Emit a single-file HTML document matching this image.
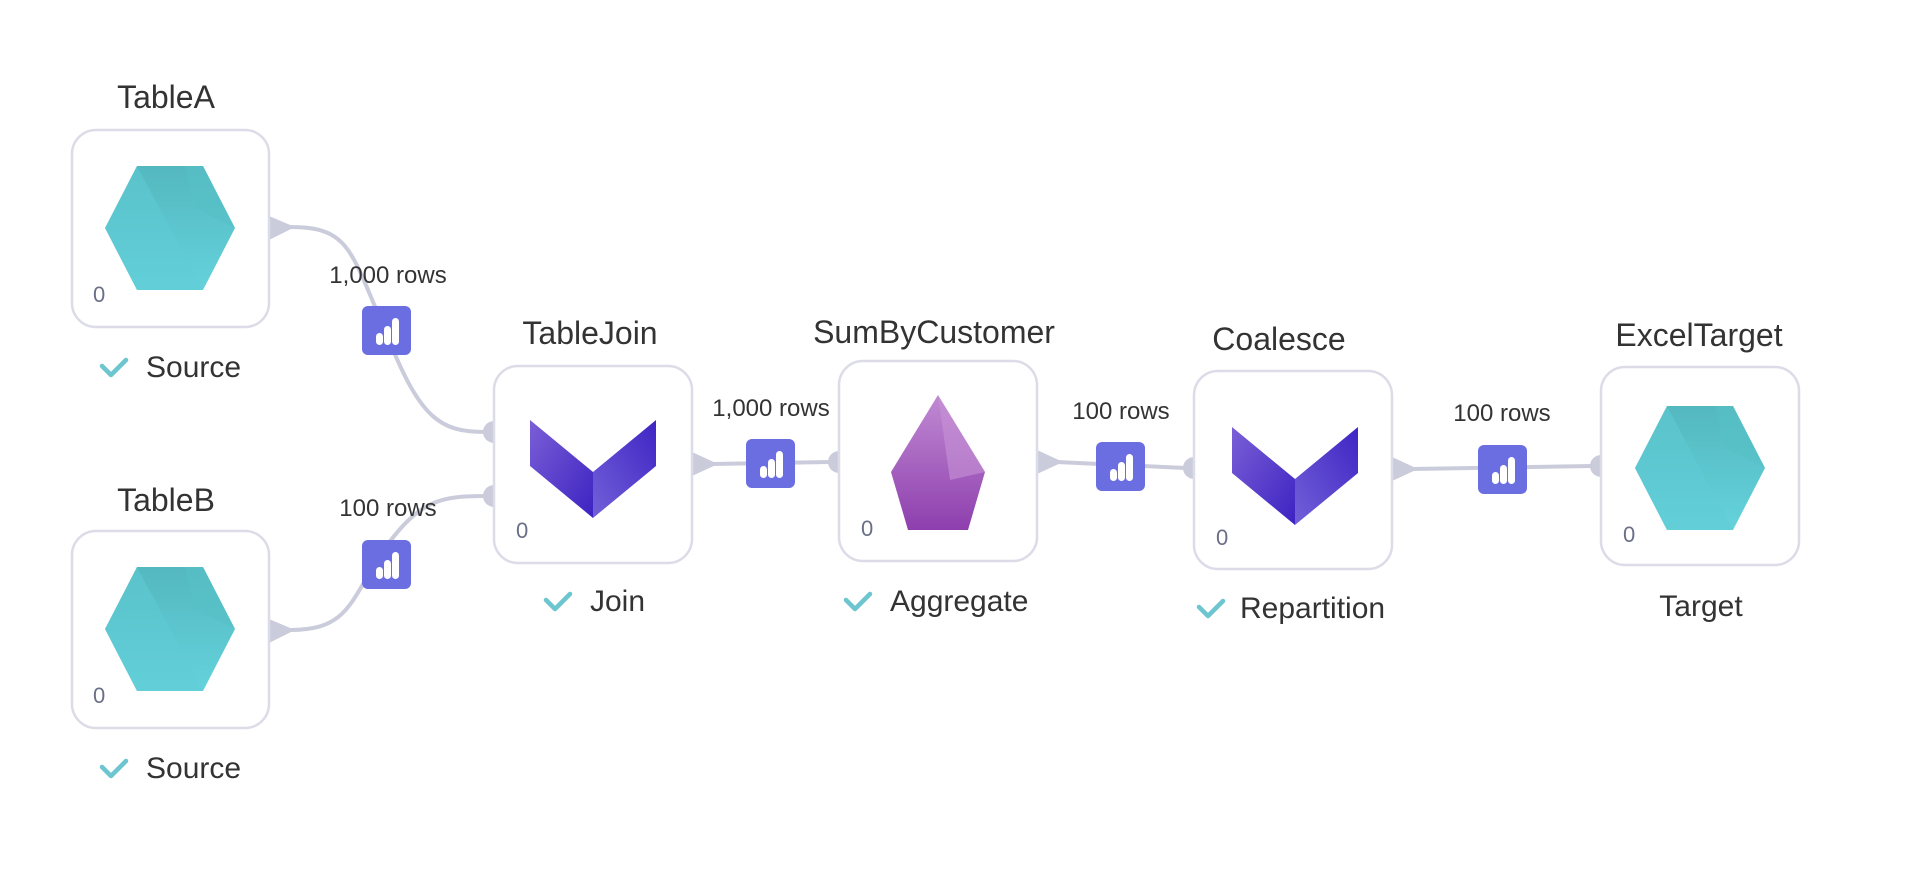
<!DOCTYPE html>
<html><head><meta charset="utf-8"><style>
html,body{margin:0;padding:0;background:#fff;}
svg{display:block;font-family:"Liberation Sans",sans-serif;}
</style></head><body>
<svg width="1906" height="882" viewBox="0 0 1906 882" xmlns="http://www.w3.org/2000/svg">
<defs>
<linearGradient id="hex" x1="0" y1="0" x2="0" y2="1"><stop offset="0" stop-color="#54b8bf"/><stop offset="1" stop-color="#64d2dc"/></linearGradient>
<linearGradient id="chl" x1="0" y1="0" x2="1" y2="1"><stop offset="0" stop-color="#7a5fd6"/><stop offset="1" stop-color="#3d22c2"/></linearGradient>
<linearGradient id="chr" x1="0" y1="1" x2="1" y2="0"><stop offset="0" stop-color="#7260d8"/><stop offset="1" stop-color="#3f25c4"/></linearGradient>
<linearGradient id="gem" x1="0" y1="0" x2="0" y2="1"><stop offset="0" stop-color="#c08ad2"/><stop offset="1" stop-color="#8e3fae"/></linearGradient>
<g id="bars"><rect x="0" y="0" width="49" height="49" rx="6" fill="#6b6ee0"/><rect x="14" y="27" width="7" height="12" rx="3.5" fill="#fff"/><rect x="22" y="20" width="7" height="19" rx="3.5" fill="#fff"/><rect x="30" y="12" width="7" height="27" rx="3.5" fill="#fff"/></g>
<g id="hexi"><polygon points="-33,-62 33,-62 65,0 33,62 -33,62 -65,0" fill="url(#hex)"/><polygon points="-33,-62 0,0 33,62 -33,62 -65,0" fill="#5fccd6" opacity="0.5"/><polygon points="15,-62 33,-62 65,0 25,-20" fill="#57bfc7" opacity="0.6"/></g>
<g id="chev"><polygon points="-63,-44 0,8 0,54 -63,2" fill="url(#chl)"/><polygon points="63,-44 0,8 0,54 63,2" fill="url(#chr)"/></g>
</defs>
<g fill="none" stroke="#cbccdb" stroke-width="4">
<path d="M290 227 C350 227 350 250 385 330 C420 420 440 432 486 432"/>
<path d="M290 630 C350 630 350 600 385 548 C420 500 440 496 486 496"/>
<path d="M712 464 L830 462"/>
<path d="M1057 462 L1185 468"/>
<path d="M1412 469 L1592 466"/>
</g>
<g fill="#cbccdb">
<polygon points="269,216 295,227 269,240"/>
<polygon points="269,619 295,630 269,643"/>
<polygon points="692,452 718,464 692,476"/>
<polygon points="1037,450 1063,462 1037,474"/>
<polygon points="1392,457 1418,469 1392,481"/>
<circle cx="494" cy="432" r="11"/><circle cx="494" cy="496" r="11"/>
<circle cx="839" cy="462" r="11"/><circle cx="1194" cy="468" r="11"/><circle cx="1601" cy="466" r="11"/>
</g>
<g fill="#fff" stroke="#dcdce8" stroke-width="2.5">
<rect x="72" y="130" width="197" height="197" rx="24"/>
<rect x="72" y="531" width="197" height="197" rx="24"/>
<rect x="494" y="366" width="198" height="197" rx="24"/>
<rect x="839" y="361" width="198" height="200" rx="24"/>
<rect x="1194" y="371" width="198" height="198" rx="24"/>
<rect x="1601" y="367" width="198" height="198" rx="24"/>
</g>
<use href="#hexi" x="170" y="228"/>
<use href="#hexi" x="170" y="629"/>
<use href="#hexi" x="1700" y="468"/>
<use href="#chev" x="593" y="464"/>
<use href="#chev" x="1295" y="471"/>
<polygon points="938,395 985,472 968,530 908,530 891,472" fill="url(#gem)"/>
<polygon points="938,395 985,472 950,480" fill="#c792d6" opacity="0.6"/>
<use href="#bars" x="362" y="306"/>
<use href="#bars" x="362" y="540"/>
<use href="#bars" x="746" y="439"/>
<use href="#bars" x="1096" y="442"/>
<use href="#bars" x="1478" y="445"/>
<g fill="#333" font-size="32" text-anchor="middle">
<text x="166" y="108">TableA</text>
<text x="166" y="511">TableB</text>
<text x="590" y="344">TableJoin</text>
<text x="934" y="343">SumByCustomer</text>
<text x="1279" y="350">Coalesce</text>
<text x="1699" y="346">ExcelTarget</text>
</g>
<g fill="#333" font-size="30">
<text x="146" y="377">Source</text>
<text x="146" y="778">Source</text>
<text x="590" y="611">Join</text>
<text x="890" y="611">Aggregate</text>
<text x="1240" y="618">Repartition</text>
<text x="1701" y="616" text-anchor="middle">Target</text>
</g>
<g fill="none" stroke="#6cc5cf" stroke-width="4.5" stroke-linecap="round" stroke-linejoin="round">
<path d="M102 366 l9 9 l15 -15"/><path d="M102 767 l9 9 l15 -15"/>
<path d="M546 600 l9 9 l15 -15"/><path d="M846 600 l9 9 l15 -15"/>
<path d="M1199 607 l9 9 l15 -15"/>
</g>
<g fill="#333" font-size="24" text-anchor="middle">
<text x="388" y="283">1,000 rows</text>
<text x="388" y="516">100 rows</text>
<text x="771" y="416">1,000 rows</text>
<text x="1121" y="419">100 rows</text>
<text x="1502" y="421">100 rows</text>
</g>
<g fill="#6a6f88" font-size="22">
<text x="93" y="302">0</text><text x="93" y="703">0</text>
<text x="516" y="538">0</text><text x="861" y="536">0</text>
<text x="1216" y="545">0</text><text x="1623" y="542">0</text>
</g>
</svg>
</body></html>
